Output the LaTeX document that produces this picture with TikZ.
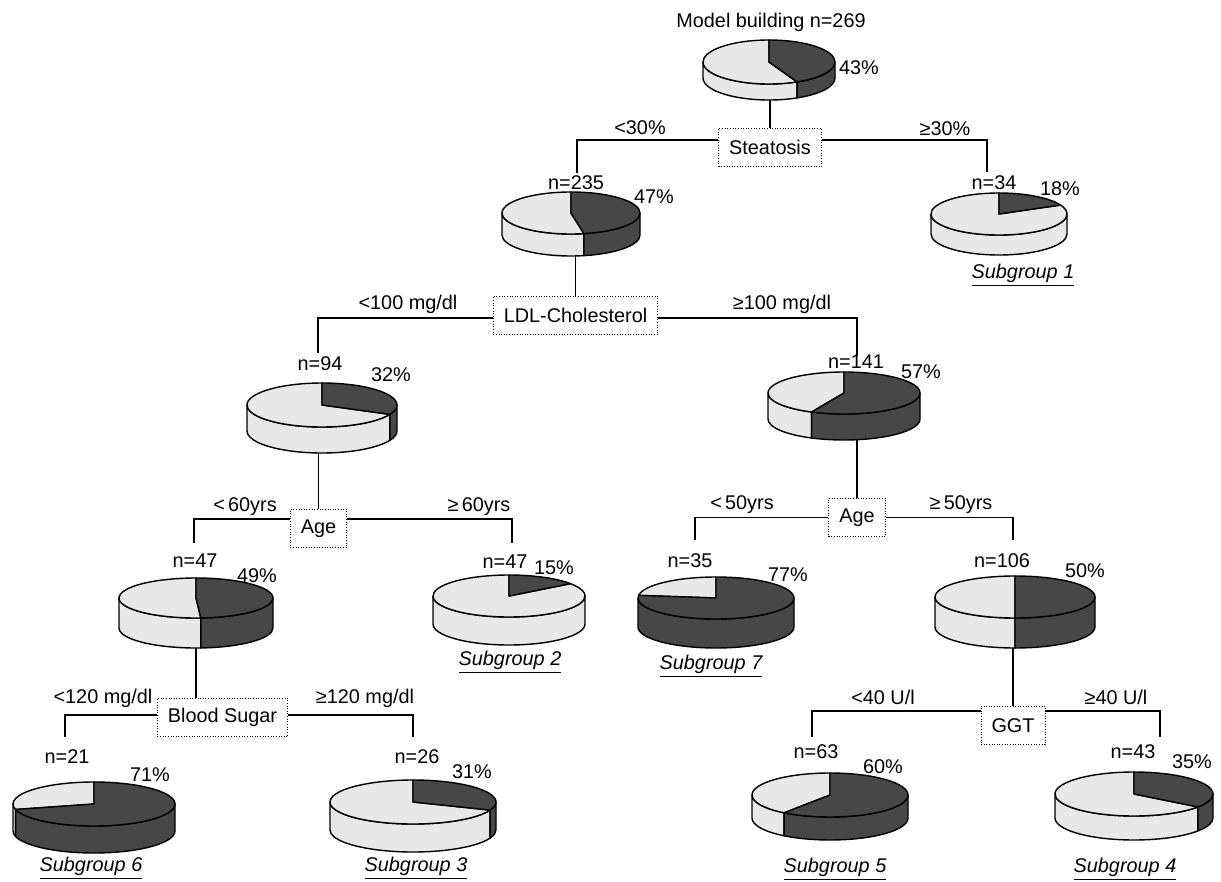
\documentclass[tikz,border=0pt]{standalone}
\usepackage{fontspec}
\setmainfont{Liberation Sans}
\newcommand{\TreePx}{0.02}
\tikzset{
	every node/.style={font=\fontsize{11.3}{13.5}\selectfont, inner sep=1pt},
	testbox/.style={draw, densely dotted, line width=0.5pt, inner xsep=6pt, minimum height=22pt},
	branchline/.style={line width=0.8pt},
	lightpart/.style={fill=black!9, draw=black, line width=0.8pt, line join=round},
	darkpart/.style={fill=black!72, draw=black, line width=0.8pt, line join=round},
	subgroup/.style={font=\fontsize{11.3}{13.5}\selectfont\itshape}
}
% name, cx, cy, x radius, y radius, thickness, percent
\newcommand{\piechart}[7]{%
	\coordinate (#1-top) at (#2,#3-#5);
	\coordinate (#1-bot) at (#2,#3+#5+#6);
	\begin{scope}[shift={(#2,#3)}, y=\TreePx cm]
		\pgfmathsetmacro{\pieend}{90-3.6*#7}
		\ifdim\pieend pt>-180pt
			\pgfmathsetmacro{\piestop}{min(\pieend,0)}
			\filldraw[lightpart] (-180:#4 and #5) arc[start angle=-180, end angle=\piestop, x radius=#4, y radius=#5] -- ++(0,-#6) arc[start angle=\piestop, end angle=-180, x radius=#4, y radius=#5] -- cycle;
		\fi
		\ifdim\pieend pt<0pt
			\pgfmathsetmacro{\piestart}{max(\pieend,-180)}
			\filldraw[darkpart] (\piestart:#4 and #5) arc[start angle=\piestart, end angle=0, x radius=#4, y radius=#5] -- ++(0,-#6) arc[start angle=0, end angle=\piestart, x radius=#4, y radius=#5] -- cycle;
		\fi
		\filldraw[lightpart] (0,0) -- (\pieend:#4 and #5) arc[start angle=\pieend, end angle=-270, x radius=#4, y radius=#5] -- cycle;
		\filldraw[darkpart] (0,0) -- (90:#4 and #5) arc[start angle=90, end angle=\pieend, x radius=#4, y radius=#5] -- cycle;
	\end{scope}}
\begin{document}
\begin{tikzpicture}[x=\TreePx cm, y=-\TreePx cm]
	\useasboundingbox (0,0) rectangle (1221,882);
	\piechart{pie269}{769}{62}{66}{22}{16}{43}
	\piechart{pie235}{571}{213}{69}{21}{22}{47}
	\piechart{pie34}{999}{214}{68}{21}{20}{18}
	\piechart{pie94}{322}{405}{75}{22}{26}{32}
	\piechart{pie141}{844}{393}{76}{21}{26}{57}
	\piechart{pie47a}{196}{598}{77}{20}{30}{49}
	\piechart{pie47b}{509}{596}{76}{21}{28}{15}
	\piechart{pie35}{716}{598}{78}{21}{29}{77}
	\piechart{pie106}{1015}{597}{80}{21}{30}{50}
	\piechart{pie21}{94}{804}{81}{22}{27}{71}
	\piechart{pie26}{413}{802}{83}{22}{28}{31}
	\piechart{pie63}{830}{795}{78}{22}{23}{60}
	\piechart{pie43}{1134}{794}{79}{22}{24}{35}

	\node (title) at (771,22) {Model building n=269};
	\node (f269) at (859,68) {43\%};
	\node[testbox] (steatosis) at (770,147.5) {Steatosis};
	\node (c1a) at (640,128) {<30\%};
	\node (c1b) at (945,129) {≥30\%};
	\node (n235) at (576,183) {n=235};
	\node (f235) at (654,197) {47\%};
	\node (n34) at (994,183) {n=34};
	\node (f34) at (1060,189) {18\%};
	\node[subgroup] (sg1) at (1023,275) {\underline{Subgroup 1}};

	\node[testbox] (ldl) at (575.5,315.5) {LDL-Cholesterol};
	\node (c2a) at (408,304) {<100 mg/dl};
	\node (c2b) at (782,304) {≥100 mg/dl};
	\node (n94) at (320,364) {n=94};
	\node (f94) at (391,375) {32\%};
	\node (n141) at (856,362) {n=141};
	\node (f141) at (921,372) {57\%};

	\node[testbox] (age1) at (318.5,528.5) {Age};
	\node (c3a) at (245,507) {<\,60yrs};
	\node (c3b) at (479,507) {≥\,60yrs};
	\node (n47a) at (195,561) {n=47};
	\node (f47a) at (257,576) {49\%};
	\node (n47b) at (505,562) {n=47};
	\node (f47b) at (554,568) {15\%};
	\node[subgroup] (sg2) at (510,662) {\underline{Subgroup 2}};

	\node[testbox] (age2) at (857,517.5) {Age};
	\node (c4a) at (742,505) {<\,50yrs};
	\node (c4b) at (961,505) {≥\,50yrs};
	\node (n35) at (690,561) {n=35};
	\node (f35) at (788,575) {77\%};
	\node (n106) at (1002,561) {n=106};
	\node (f106) at (1085,571) {50\%};
	\node[subgroup] (sg7) at (711,666) {\underline{Subgroup 7}};

	\node[testbox] (sugar) at (222.5,717.5) {Blood Sugar};
	\node (c5a) at (103,698) {<120 mg/dl};
	\node (c5b) at (365,698) {≥120 mg/dl};
	\node (n21) at (67,757) {n=21};
	\node (f21) at (150,775) {71\%};
	\node (n26) at (417,757) {n=26};
	\node (f26) at (472,772) {31\%};
	\node[subgroup] (sg6) at (91,868) {\underline{Subgroup 6}};
	\node[subgroup] (sg3) at (416,868) {\underline{Subgroup 3}};

	\node[testbox] (ggt) at (1013,725.5) {GGT};
	\node (c6a) at (883,697) {<40 U/l};
	\node (c6b) at (1116,697) {≥40 U/l};
	\node (n63) at (816,752) {n=63};
	\node (f63) at (883,767) {60\%};
	\node (n43) at (1133,752) {n=43};
	\node (f43) at (1192,762) {35\%};
	\node[subgroup] (sg5) at (835,869) {\underline{Subgroup 5}};
	\node[subgroup] (sg4) at (1125,869) {\underline{Subgroup 4}};

	\coordinate (e235) at (577,173);
	\coordinate (e34) at (987,172);
	\coordinate (e94) at (318,353);
	\coordinate (e141) at (857,356);
	\coordinate (e47a) at (194,543);
	\coordinate (e47b) at (512,543);
	\coordinate (e35) at (695,540);
	\coordinate (e106) at (1013,540);
	\coordinate (e21) at (65,737);
	\coordinate (e26) at (413,737);
	\coordinate (e63) at (812,737);
	\coordinate (e43) at (1160,737);

	\draw[branchline] (steatosis.north) -- (steatosis.north |- pie269-bot);
	\draw[branchline] ([yshift=4.25pt]steatosis.west) -| (e235);
	\draw[branchline] ([yshift=4.25pt]steatosis.east) -| (e34);
	\draw[branchline] (ldl.north) -- (ldl.north |- pie235-bot);
	\draw[branchline] ([yshift=-1.4pt]ldl.west) -| (e94);
	\draw[branchline] ([yshift=-1.4pt]ldl.east) -| (e141);
	\draw[branchline] (age1.north) -- (age1.north |- pie94-bot);
	\draw[branchline] ([yshift=5.4pt]age1.west) -| (e47a);
	\draw[branchline] ([yshift=5.4pt]age1.east) -| (e47b);
	\draw[branchline] (age2.north) -- (age2.north |- pie141-bot);
	\draw[branchline] (age2.west) -| (e35);
	\draw[branchline] (age2.east) -| (e106);
	\draw[branchline] (pie47a-bot) -- (pie47a-bot |- sugar.north);
	\draw[branchline] ([yshift=1.4pt]sugar.west) -| (e21);
	\draw[branchline] ([yshift=1.4pt]sugar.east) -| (e26);
	\draw[branchline] (ggt.north) -- (ggt.north |- pie106-bot);
	\draw[branchline] ([yshift=8.2pt]ggt.west) -| (e63);
	\draw[branchline] ([yshift=8.2pt]ggt.east) -| (e43);
\end{tikzpicture}
\end{document}
